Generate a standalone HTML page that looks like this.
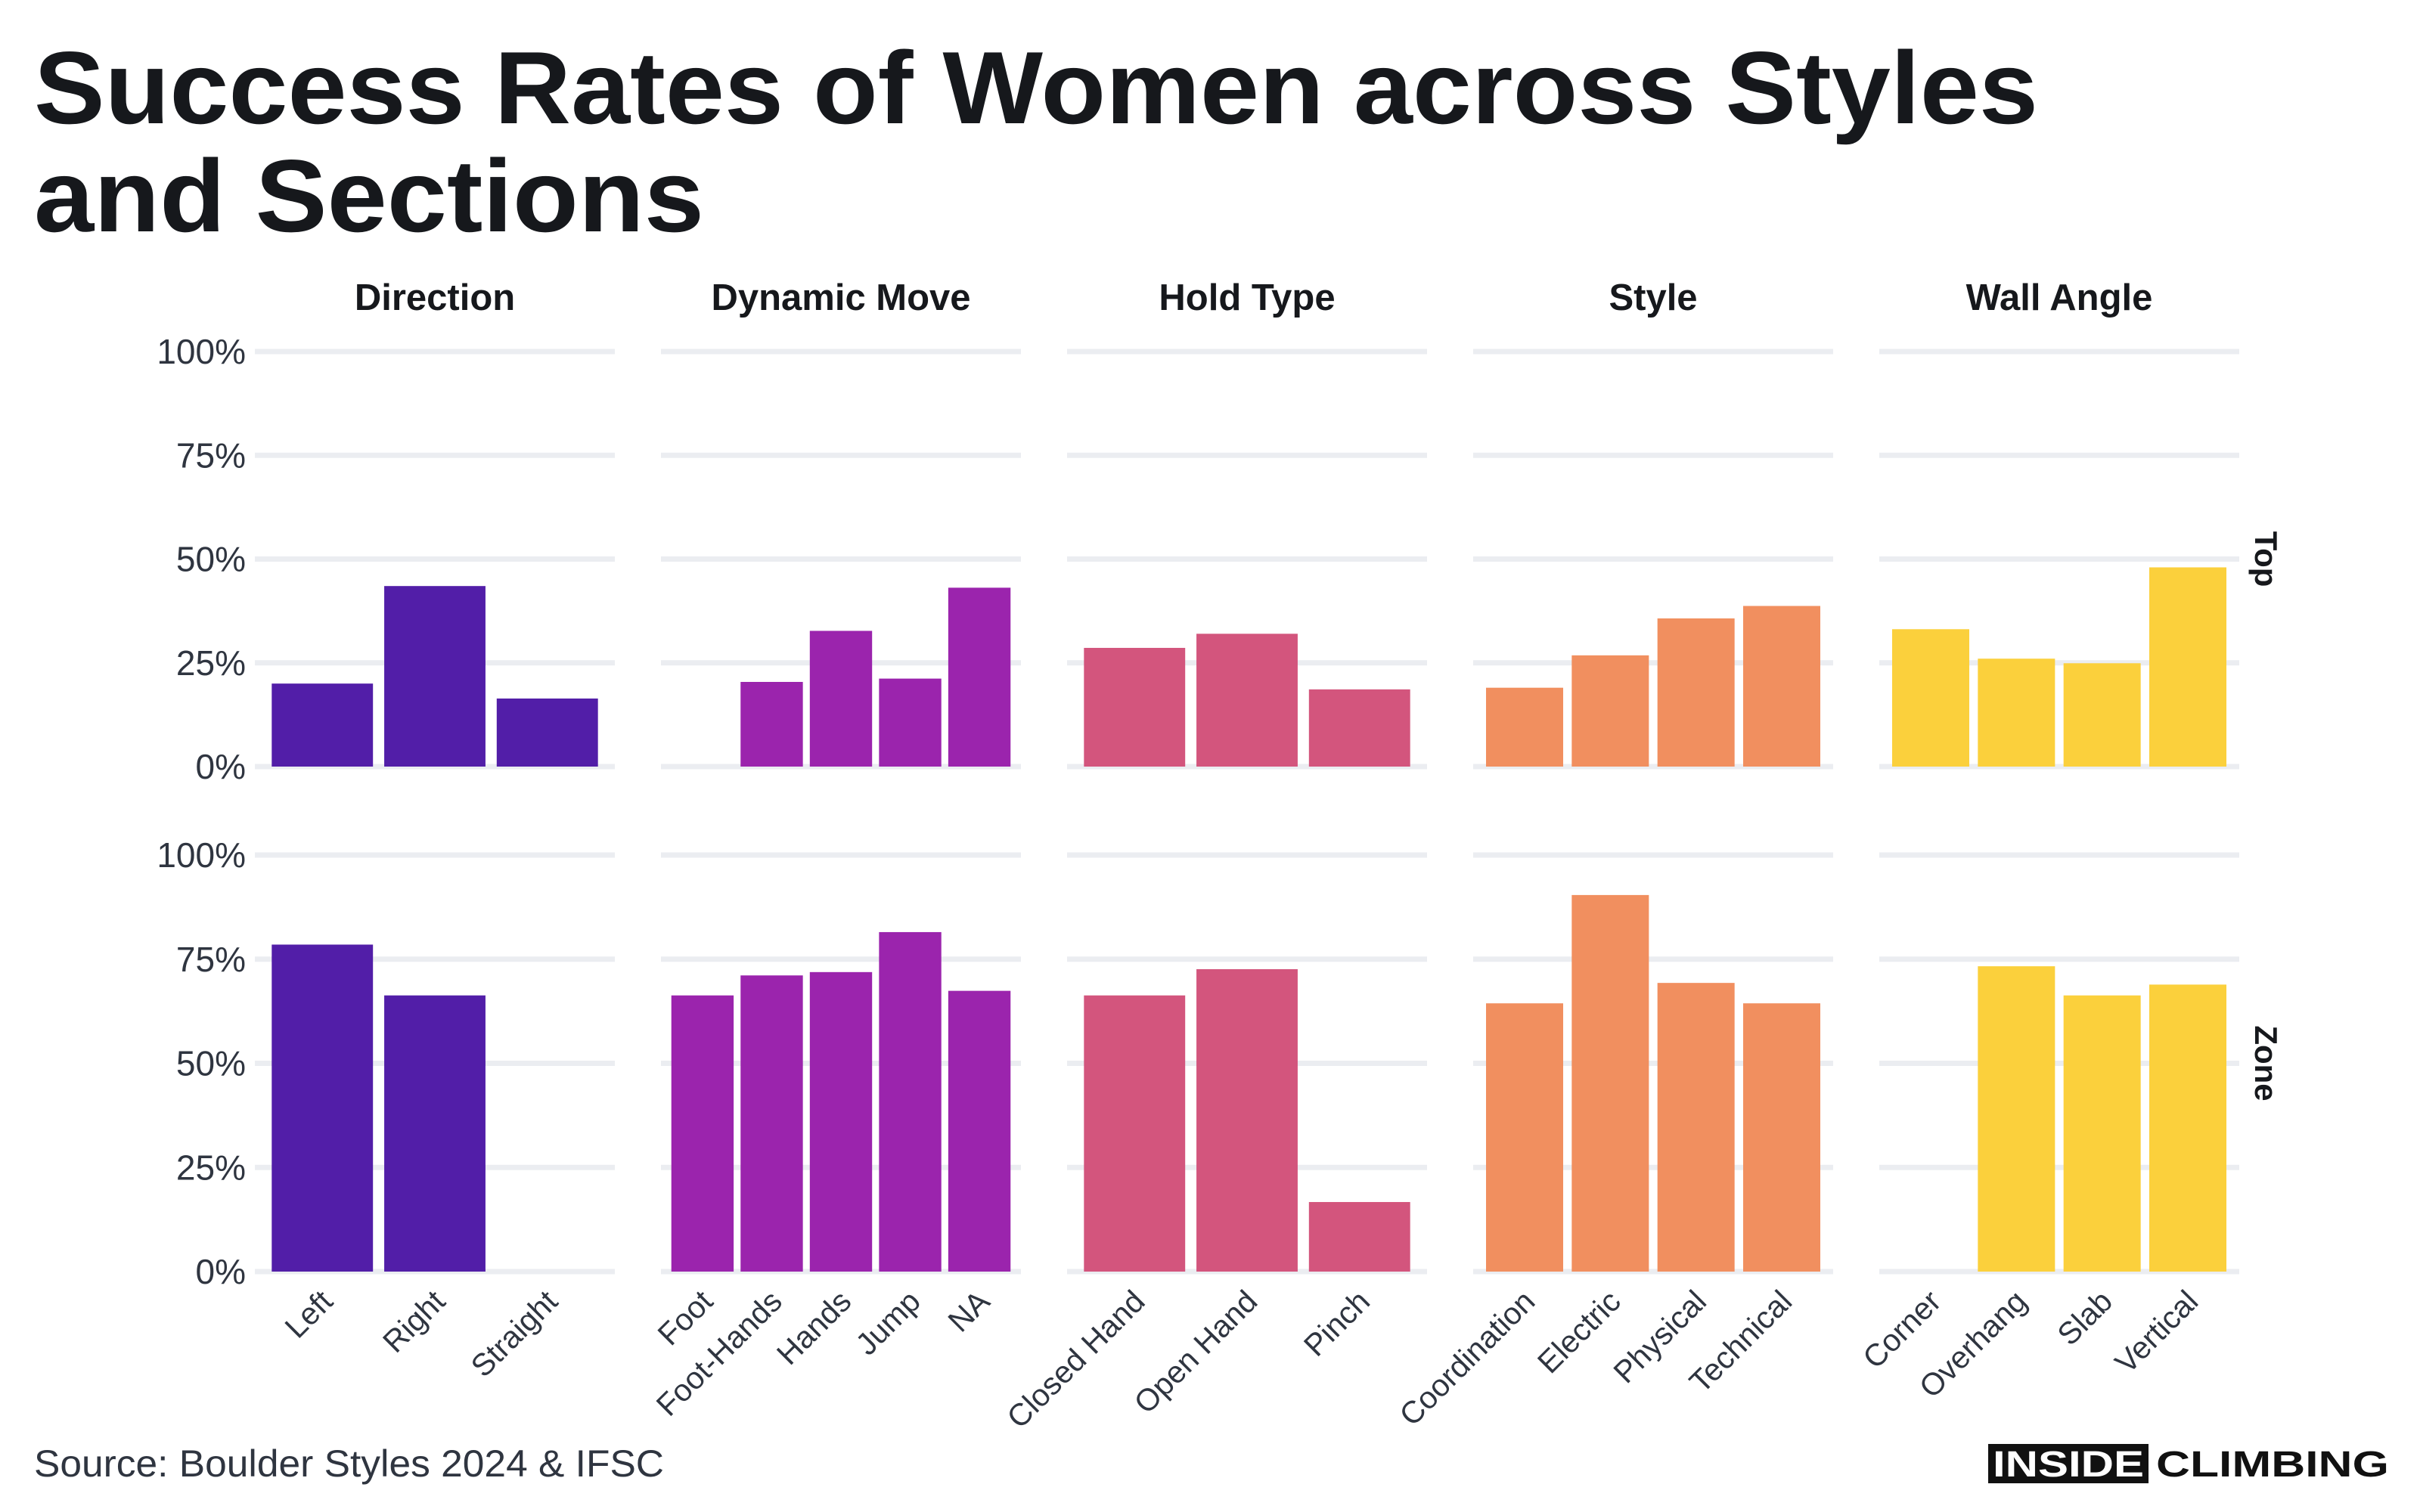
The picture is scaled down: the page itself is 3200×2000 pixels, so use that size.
<!DOCTYPE html>
<html><head><meta charset="utf-8"><style>
html,body{margin:0;padding:0;background:#fff;}
svg{display:block;font-family:"Liberation Sans",sans-serif;}
</style></head><body>
<svg id="chart" width="3200" height="2000" viewBox="0 0 3200 2000" xmlns="http://www.w3.org/2000/svg">
<rect width="3200" height="2000" fill="#fff"/>
<text x="45" y="163" font-size="136" font-weight="bold" fill="#16181c" textLength="2650" lengthAdjust="spacingAndGlyphs">Success Rates of Women across Styles</text>
<text x="45" y="306" font-size="136" font-weight="bold" fill="#16181c" textLength="886" lengthAdjust="spacingAndGlyphs">and Sections</text>
<text x="45" y="1953" font-size="50" fill="#2f3540" textLength="833" lengthAdjust="spacingAndGlyphs">Source: Boulder Styles 2024 &amp; IFSC</text>
<g>
<rect x="2629" y="1910" width="212" height="52" fill="#111"/>
<text x="2735" y="1953" font-size="48" font-weight="bold" fill="#fff" text-anchor="middle" textLength="200" lengthAdjust="spacingAndGlyphs">INSIDE</text>
<text x="2851" y="1953" font-size="48" font-weight="bold" fill="#111" textLength="308" lengthAdjust="spacingAndGlyphs">CLIMBING</text>
</g>
<g id="plot"></g>
</svg>
<script>
const facets = ["Direction","Dynamic Move","Hold Type","Style","Wall Angle"];
const rows = ["Top","Zone"];
const catsDirection = ["Left","Right","Straight"];
const catsDynamic = ["Foot","Foot-Hands","Hands","Jump","NA"];
const catsHold = ["Closed Hand","Open Hand","Pinch"];
const catsStyle = ["Coordination","Electric","Physical","Technical"];
const catsWall = ["Corner","Overhang","Slab","Vertical"];
const topDirection = [20.0,43.5,16.4];
const topDynamic = [null,20.4,32.7,21.2,43.1];
const topHold = [28.6,32.0,18.6];
const topStyle = [19.0,26.8,35.7,38.7];
const topWall = [33.1,26.0,24.9,48.0];
const zoneDirection = [78.5,66.3,null];
const zoneDynamic = [66.3,71.1,71.9,81.5,67.4];
const zoneHold = [66.3,72.6,16.7];
const zoneStyle = [64.4,90.4,69.3,64.4];
const zoneWall = [null,73.3,66.3,68.9];
const yTicks = [0,25,50,75,100];
const yTickLabels = ["0%","25%","50%","75%","100%"];

const cats = [catsDirection,catsDynamic,catsHold,catsStyle,catsWall];
const vals = [[topDirection,topDynamic,topHold,topStyle,topWall],[zoneDirection,zoneDynamic,zoneHold,zoneStyle,zoneWall]];
const colors = ["#521ea8","#9b24ad","#d3557d","#f18f5f","#fbd03c"];
const NS = "http://www.w3.org/2000/svg";
const g = document.getElementById("plot");
const panelX0 = 337, panelW = 476, panelStep = 537;
const rowTop = [465,1131], rowBottom = [1014,1682];
function yScale(r,v){return rowBottom[r] - (rowBottom[r]-rowTop[r])*v/100;}
function xScale(f,i){const n=cats[f].length;const u=panelW/(n+0.2);return panelX0+f*panelStep+u*(0.6+i);}
function mk(tag,attrs,parent){const e=document.createElementNS(NS,tag);for(const k in attrs)e.setAttribute(k,attrs[k]);(parent||g).appendChild(e);return e;}

facets.forEach((name,f)=>{
  const t=mk("text",{x:panelX0+f*panelStep+panelW/2,y:410,"font-size":49,"font-weight":"bold",fill:"#16181c","text-anchor":"middle"});
  t.textContent=name;
  
  
});
rows.forEach((rname,r)=>{
  const cy=(rowTop[r]+rowBottom[r])/2;
  const t=mk("text",{x:0,y:0,"font-size":42,"font-weight":"bold",fill:"#16181c","text-anchor":"middle",transform:`translate(2982,${cy}) rotate(90)`});
  t.textContent=rname;
  
  
  yTicks.forEach((v,k)=>{
    const lb=mk("text",{x:325,y:yScale(r,v)+16,"font-size":46,fill:"#2f3540","text-anchor":"end"});
    lb.textContent=yTickLabels[k];
    
    
    facets.forEach((_,f)=>{
      const gl=mk("rect",{x:panelX0+f*panelStep,y:yScale(r,v)-3.5,width:panelW,height:7,fill:"#ebedf1"});
      
      
    });
  });
  facets.forEach((_,f)=>{
    const n=cats[f].length;const u=panelW/(n+0.2);
    vals[r][f].forEach((v,i)=>{
      if(v==null)return;
      const cx=xScale(f,i);
      const b=mk("rect",{x:cx-u*0.45,y:yScale(r,v),width:u*0.9,height:yScale(r,0)-yScale(r,v),fill:colors[f]});
      
      
    });
  });
});
facets.forEach((_,f)=>{
  cats[f].forEach((c,i)=>{
    const cx=xScale(f,i);
    const t=mk("text",{x:0,y:0,"font-size":41,fill:"#2f3540","text-anchor":"end",transform:`translate(${cx+16},${1724}) rotate(-45)`});
    t.textContent=c;
    
    
  });
});
</script>
</body></html>
